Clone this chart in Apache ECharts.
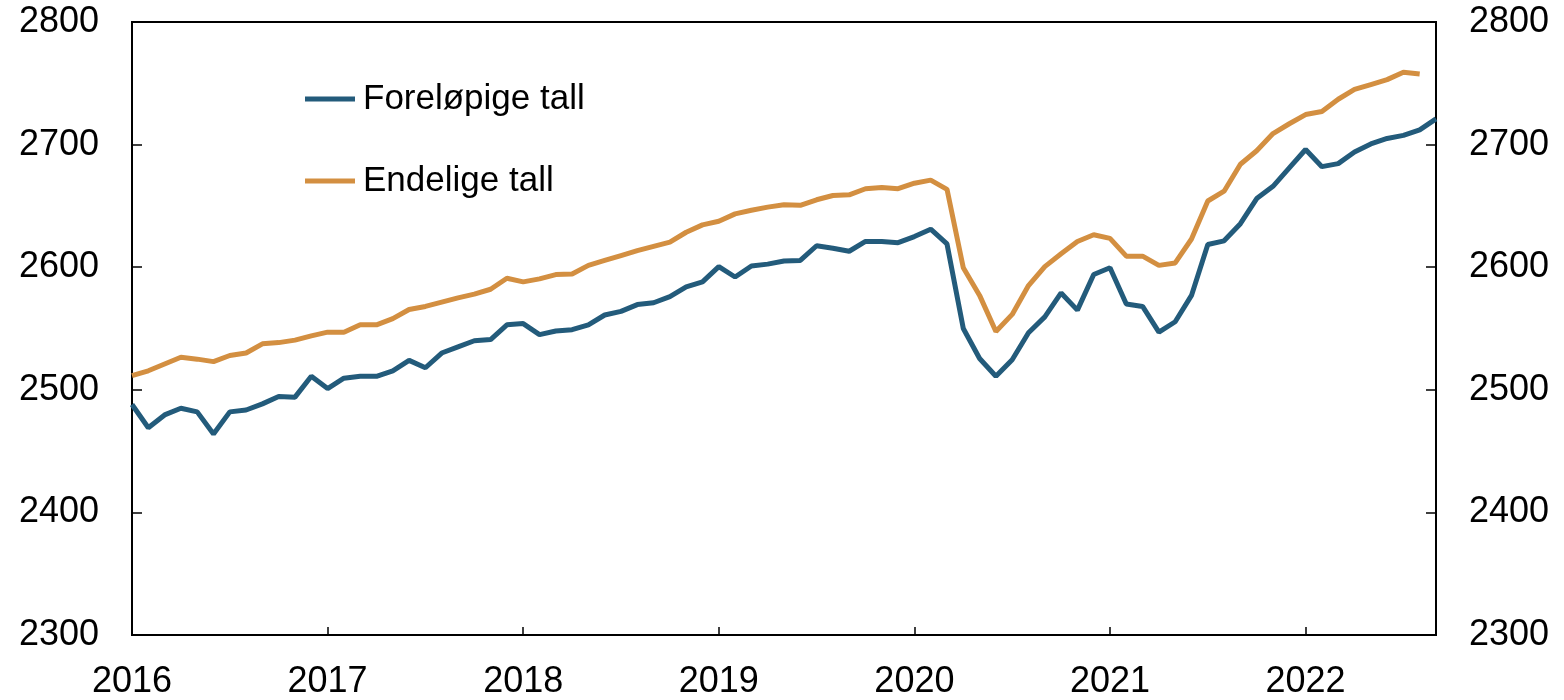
<!DOCTYPE html>
<html>
<head>
<meta charset="utf-8">
<title>Foreløpige og endelige tall</title>
<script src="https://cdn.jsdelivr.net/npm/echarts@6/dist/echarts.min.js"></script>
<style>
  html, body { margin: 0; padding: 0; background: #fff; }
  #chart { width: 1564px; height: 700px; }
</style>
</head>
<body>
<div id="chart"></div>
<script>
// månedlige tall, jan 2016 - sep 2022
const years = [2016, 2017, 2018, 2019, 2020, 2021, 2022];
const yTicks = [2300, 2400, 2500, 2600, 2700, 2800];
const seriesNames = ["Foreløpige tall", "Endelige tall"];

const forelopige = [
  2488, 2469, 2479.5, 2485, 2482, 2464, 2482, 2483.5, 2488.5, 2494.5, 2494, 2511,
  2501, 2509.5, 2511, 2511, 2515.5, 2524, 2518, 2530, 2535, 2540, 2541, 2553,
  2554, 2545, 2548, 2549, 2553, 2561, 2564, 2569.5, 2571, 2576, 2584, 2588,
  2600.5, 2592, 2601, 2602.5, 2605, 2605.5, 2617.5, 2615.5, 2613, 2621, 2621, 2620,
  2625, 2631, 2619, 2550, 2525.5, 2511, 2524.5, 2546.5, 2559.5, 2579, 2565, 2594,
  2599.5, 2570, 2568, 2547, 2555.5, 2577, 2618.5, 2621.5, 2635.5, 2656, 2666, 2681,
  2696, 2682, 2684.5, 2694, 2700.5, 2705, 2707.5, 2712, 2721
];
const endelige = [
  2511.5, 2515.5, 2521, 2526.5, 2525, 2523, 2528, 2530, 2537.5, 2538.5, 2540.5, 2544,
  2547, 2547, 2553, 2553, 2558, 2565.5, 2568, 2571.5, 2575, 2578, 2582, 2591,
  2588, 2590.5, 2594, 2594.5, 2601.5, 2605.5, 2609.5, 2613.5, 2617, 2620.5, 2628.5, 2634.5,
  2637.5, 2643.5, 2646.5, 2649, 2651, 2650.5, 2655, 2658.5, 2659, 2664, 2665, 2664,
  2668.5, 2671, 2663.5, 2599.5, 2577, 2547.5, 2561.5, 2585, 2600.5, 2611, 2621, 2626.5,
  2623.5, 2609, 2609, 2601.5, 2603.5, 2623, 2654, 2662, 2684, 2695, 2709, 2717,
  2724.5, 2727, 2737, 2745, 2749, 2753, 2759, 2757.5
];

// kategorier: en per måned
const months = [];
years.forEach(y => {
  for (let m = 1; m <= 12; m++) months.push(y + "-" + (m < 10 ? "0" + m : m));
});
months.length = forelopige.length;

const FONT = "'Liberation Sans', Arial, sans-serif";
const BLUE = "#235b7b";
const ORANGE = "#d38f41";

const chart = echarts.init(document.getElementById("chart"));

const yAxisBase = {
  type: "value",
  min: yTicks[0],
  max: yTicks[yTicks.length - 1],
  interval: 100,
  axisLine: { show: true, lineStyle: { color: "#000", width: 2 } },
  axisTick: { show: true, inside: true, length: 10, lineStyle: { color: "#000", width: 1.5 } },
  axisLabel: {
    color: "#000",
    fontSize: 36,
    fontFamily: FONT,
    margin: 33,
    formatter: (v) => String(v) // ingen tusenskille
  },
  splitLine: { show: false }
};

const legendBase = {
  left: 305,
  padding: 0,
  itemWidth: 50,
  itemHeight: 5,
  itemGap: 0,
  icon: "rect",
  selectedMode: false,
  textStyle: { color: "#000", fontSize: 35, fontFamily: FONT, lineHeight: 36, padding: [0, 0, 0, 3] }
};

const option = {
  animation: false,
  backgroundColor: "#fff",
  grid: {
    left: 132,
    right: 128,
    top: 22,
    bottom: 62,
    show: true,
    borderColor: "#000",
    borderWidth: 2
  },
  legend: [
    Object.assign({}, legendBase, { top: 81, data: [seriesNames[0]] }),
    Object.assign({}, legendBase, { top: 163, data: [seriesNames[1]] })
  ],
  xAxis: {
    type: "category",
    data: months,
    boundaryGap: false,
    axisLine: { show: true, lineStyle: { color: "#000", width: 2 } },
    axisTick: {
      show: true,
      inside: true,
      length: 8,
      interval: (i) => i % 12 === 0,
      lineStyle: { color: "#000", width: 1.5 }
    },
    axisLabel: {
      interval: (i) => i % 12 === 0,
      formatter: (v) => v.slice(0, 4),
      color: "#000",
      fontSize: 36,
      fontFamily: FONT,
      margin: 29
    },
    splitLine: { show: false }
  },
  yAxis: [
    Object.assign({}, yAxisBase, { position: "left" }),
    Object.assign({}, yAxisBase, { position: "right" })
  ],
  series: [
    {
      name: seriesNames[0],
      type: "line",
      data: forelopige,
      symbol: "none",
      lineStyle: { color: BLUE, width: 5 },
      itemStyle: { color: BLUE },
      z: 3
    },
    {
      name: seriesNames[1],
      type: "line",
      data: endelige,
      symbol: "none",
      lineStyle: { color: ORANGE, width: 5 },
      itemStyle: { color: ORANGE },
      z: 2
    }
  ]
};

chart.setOption(option);
</script>
</body>
</html>
